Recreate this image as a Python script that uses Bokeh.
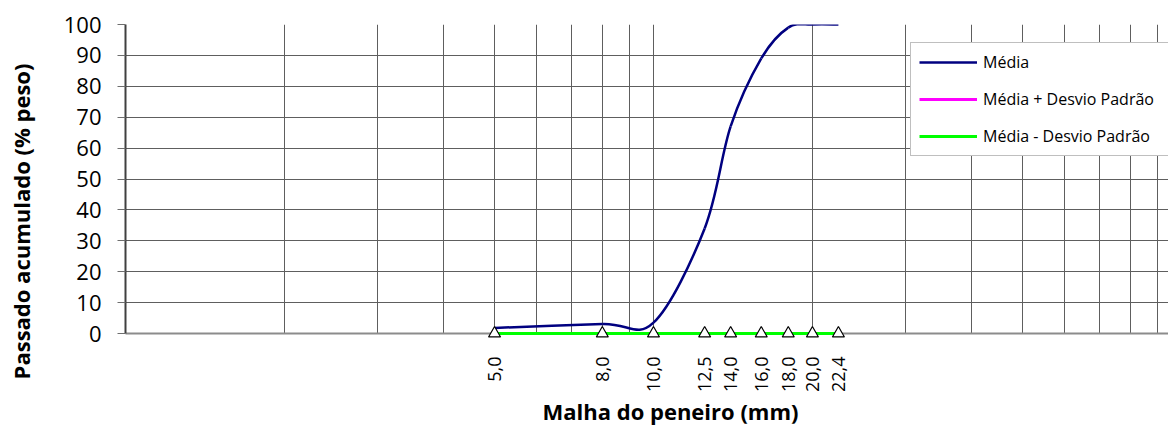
import math
import numpy as np
from bokeh.plotting import figure
from bokeh.models import FixedTicker, Range1d, Legend, LegendItem
from bokeh.core.properties import value
from bokeh.embed import file_html
from bokeh.resources import INLINE

# ---- data ----
sieves = [5.0, 8.0, 10.0, 12.5, 14.0, 16.0, 18.0, 20.0, 22.4]
sieve_labels = ["5,0", "8,0", "10,0", "12,5", "14,0", "16,0", "18,0", "20,0", "22,4"]
media = [1.8, 3.1, 3.5, 34.0, 67.0, 89.0, 99.0, 100.0, 100.0]
media_mais_dp = [0, 0, 0, 0, 0, 0, 0, 0, 0]
media_menos_dp = [0, 0, 0, 0, 0, 0, 0, 0, 0]
marcadores = [0, 0, 0, 0, 0, 0, 0, 0, 0]
y_ticks = [0, 10, 20, 30, 40, 50, 60, 70, 80, 90, 100]
x_grid = [2, 3, 4, 5, 6, 7, 8, 9, 10, 20, 30, 40, 50, 60, 70, 80, 90]
x_title = "Malha do peneiro (mm)"
y_title = "Passado acumulado (% peso)"

FONT = "Open Sans"

# layout (pixels)
W, H = 1168, 428
LEFT, TOP, BOTTOM = 125, 24, 95
X_END = 94.5
frame_w = W - LEFT
frame_h = H - TOP - BOTTOM

p = figure(width=W, height=H, x_axis_type="log",
           x_range=Range1d(1, X_END), y_range=Range1d(0, 100),
           output_backend="svg", toolbar_location=None,
           min_border_left=LEFT, min_border_right=0,
           min_border_top=TOP, min_border_bottom=BOTTOM)
p.outline_line_color = None
p.background_fill_color = "white"

# grid
p.xgrid.ticker = FixedTicker(ticks=x_grid)
p.ygrid.ticker = FixedTicker(ticks=y_ticks)
for g in (p.xgrid, p.ygrid):
    g.grid_line_color = "#5e5e5e"
    g.grid_line_width = 1

# axes
xa = p.xaxis[0]
xa.ticker = FixedTicker(ticks=sieves)
xa.major_label_overrides = {s: l for s, l in zip(sieves, sieve_labels)}
xa.major_label_orientation = math.pi / 2
xa.major_label_text_font = FONT
xa.major_label_text_font_size = "18px"
xa.major_label_text_color = "black"
xa.major_label_standoff = 23
xa.major_tick_out = 0
xa.major_tick_in = 0
xa.minor_tick_out = 0
xa.minor_tick_in = 0
xa.axis_line_color = "#8c8c8c"
xa.axis_line_width = 2

ya = p.yaxis[0]
ya.ticker = FixedTicker(ticks=y_ticks)
ya.major_label_text_font = FONT
ya.major_label_text_font_size = "22px"
ya.major_label_text_color = "black"
ya.major_label_standoff = 16
ya.major_tick_out = 8
ya.major_tick_in = 0
ya.major_tick_line_color = "#6e6e6e"
ya.minor_tick_out = 0
ya.minor_tick_in = 0
ya.axis_line_color = "#404040"
ya.axis_line_width = 2

# smoothed mean curve (Excel-like smoothing through the data points)
lx = np.log10(np.array(sieves))
yy = np.array(media, dtype=float)
n = len(sieves)
x0, y0, x1, y1, cx0, cy0, cx1, cy1 = [], [], [], [], [], [], [], []
for i in range(n - 1):
    a = i - 1 if i > 0 else i
    b = i + 2 if i + 2 < n else i + 1
    x0.append(sieves[i]); y0.append(media[i])
    x1.append(sieves[i + 1]); y1.append(media[i + 1])
    cx0.append(10 ** (lx[i] + (lx[i + 1] - lx[a]) / 6))
    cy0.append(yy[i] + (yy[i + 1] - yy[a]) / 6)
    cx1.append(10 ** (lx[i + 1] - (lx[b] - lx[i]) / 6))
    cy1.append(yy[i + 1] - (yy[b] - yy[i]) / 6)

r_media = p.bezier(x0=x0, y0=y0, x1=x1, y1=y1, cx0=cx0, cy0=cy0, cx1=cx1, cy1=cy1,
                   line_color="#000080", line_width=2.5)

r_mais = p.line(sieves, media_mais_dp, line_color="#FF00FF", line_width=3, level="overlay")
r_menos = p.line(sieves, media_menos_dp, line_color="#00FF00", line_width=3, level="overlay")
r_tri = p.scatter(sieves, marcadores, marker="triangle", size=12,
                  fill_color="white", line_color="black", line_width=1.2, level="overlay")

legend = Legend(items=[
    LegendItem(label="Média", renderers=[r_media]),
    LegendItem(label="Média + Desvio Padrão", renderers=[r_mais]),
    LegendItem(label="Média - Desvio Padrão", renderers=[r_menos]),
], location=(785, 177))
legend.label_text_font = FONT
legend.label_text_font_size = "16px"
legend.label_text_color = "black"
legend.glyph_width = 58
legend.glyph_height = 20
legend.label_standoff = 6
legend.label_width = 320
legend.padding = 8
legend.spacing = 15
legend.margin = 0
legend.border_line_color = "#808080"
legend.border_line_width = 1.5
legend.background_fill_color = "white"
legend.background_fill_alpha = 1
p.add_layout(legend, "center")


# axis titles: placed by pixel offset from the frame's bottom-left corner,
# converted through the plot's own scales (drawn unclipped on the overlay level)
def from_px(dx, dy):
    xv = 10 ** (dx / frame_w * math.log10(X_END))
    yv = dy / frame_h * 100
    return xv, yv


tx, ty = from_px(670 - LEFT, -(410 - (TOP + frame_h)))
p.text(x=[tx], y=[ty], text=[x_title], text_font=value(FONT), text_font_style="bold",
       text_font_size="22px", text_color="black", text_align="center",
       text_baseline="alphabetic", level="overlay")

ux, uy = from_px(20 - LEFT, (TOP + frame_h) - 221)
p.text(x=[ux], y=[uy], text=[y_title], angle=math.pi / 2, text_font=value(FONT),
       text_font_style="bold", text_font_size="22px", text_color="black",
       text_align="center", text_baseline="alphabetic", level="overlay")

open("out.html", "w").write(file_html(p, INLINE))
